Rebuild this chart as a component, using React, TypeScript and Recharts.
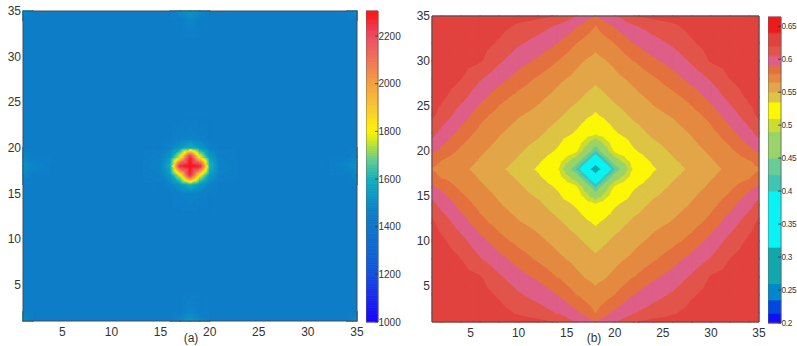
import React from 'react';
import { ComposedChart, XAxis, YAxis, ReferenceArea, Scatter } from 'recharts';

const FONT = '"Liberation Sans", Arial, Helvetica, sans-serif';
const TEXT = '#333333';

// ---------- shared axis data ----------
const axisDomain: [number, number] = [1, 35];
const axisTicks = [5, 10, 15, 20, 25, 30, 35];
const cornerPoints = [{ x: 1, y: 1 }, { x: 35, y: 35 }];

// ---------- panel (a) data ----------
const xsA = [1, 2, 4, 7, 10, 13, 15, 16, 17, 18, 19, 20, 21, 23, 26, 29, 32, 34, 35];
const ysA = [1, 2, 4, 7, 10, 13, 15, 16, 17, 18, 19, 20, 21, 23, 26, 29, 32, 34, 35];
const baseA = 1455;
const nodesA: [number, number, number][] = [
  [18, 18, 2305],
  [17, 18, 2250], [19, 18, 2260], [18, 17, 2245], [18, 19, 2255],
  [17, 17, 1760], [19, 17, 1780], [17, 19, 1770], [19, 19, 1780],
  [16, 18, 1590], [20, 18, 1610], [18, 16, 1600], [18, 20, 1590],
  [16, 17, 1530], [16, 19, 1530], [20, 17, 1540], [20, 19, 1540],
  [17, 16, 1530], [19, 16, 1530], [17, 20, 1530], [19, 20, 1530],
  [16, 16, 1470], [20, 16, 1470], [16, 20, 1470], [20, 20, 1470],
  [15, 18, 1475], [21, 18, 1475], [18, 15, 1475], [18, 21, 1475],
  [15, 17, 1465], [15, 19, 1465], [21, 17, 1465], [21, 19, 1465],
  [17, 15, 1465], [19, 15, 1465], [17, 21, 1465], [19, 21, 1465],
  [18, 35, 1525], [17, 35, 1490], [19, 35, 1490], [18, 34, 1485],
  [18, 1, 1525], [17, 1, 1490], [19, 1, 1490], [18, 2, 1485],
  [1, 18, 1515], [1, 17, 1485], [1, 19, 1485], [2, 18, 1480],
  [35, 18, 1515], [35, 17, 1485], [35, 19, 1485], [34, 18, 1480],
  [1, 1, 1505], [35, 1, 1500], [1, 35, 1495], [35, 35, 1505],
];
const colormapA: [number, string][] = [
  [1000, '#1800FF'], [1100, '#1828EC'], [1200, '#1450DC'], [1300, '#1066D0'],
  [1400, '#0E76CA'], [1455, '#0E7DC8'], [1520, '#0C94C6'], [1600, '#14B0BE'],
  [1680, '#60CC90'], [1750, '#C0E430'], [1800, '#FFF400'], [1900, '#FAC830'],
  [2000, '#F4A040'], [2100, '#EF7458'], [2200, '#EE4C60'], [2250, '#F23040'], [2305, '#FF1010'],
];
const cbarTicksA = [1000, 1200, 1400, 1600, 1800, 2000, 2200];
const cbarDomainA: [number, number] = [1000, 2305];

// ---------- panel (b) data ----------
const xsB = [1, 2, 4, 6, 8, 10, 12, 14, 16, 17, 18, 19, 20, 22, 24, 26, 28, 30, 32, 34, 35];
const ysB = [1, 2, 4, 6, 8, 10, 12, 14, 16, 17, 18, 19, 20, 22, 24, 26, 28, 30, 32, 34, 35];
const valuesB: number[][] = [
  [.633, .633, .632, .630, .628, .626, .624, .619, .605, .596, .590, .596, .605, .619, .624, .626, .628, .630, .632, .633, .633],
  [.633, .632, .631, .629, .625, .618, .612, .604, .592, .585, .578, .585, .592, .604, .612, .618, .625, .629, .631, .632, .633],
  [.633, .631, .629, .626, .618, .607, .599, .590, .578, .573, .569, .573, .578, .590, .599, .607, .618, .626, .629, .631, .633],
  [.632, .630, .626, .621, .607, .595, .587, .578, .568, .564, .561, .564, .568, .578, .587, .595, .607, .621, .626, .630, .632],
  [.630, .628, .620, .606, .594, .584, .576, .568, .561, .557, .553, .557, .561, .568, .576, .584, .594, .606, .620, .628, .630],
  [.627, .623, .610, .594, .582, .574, .568, .561, .553, .548, .543, .548, .553, .561, .568, .574, .582, .594, .610, .623, .627],
  [.623, .614, .597, .582, .573, .566, .561, .553, .543, .538, .533, .538, .543, .553, .561, .566, .573, .582, .597, .614, .623],
  [.610, .600, .585, .574, .566, .559, .553, .543, .533, .525, .515, .525, .533, .543, .553, .559, .566, .574, .585, .600, .610],
  [.592, .586, .575, .567, .560, .552, .543, .533, .513, .475, .425, .475, .513, .533, .543, .552, .560, .567, .575, .586, .592],
  [.583, .578, .571, .564, .557, .548, .538, .525, .475, .420, .345, .420, .475, .525, .538, .548, .557, .564, .571, .578, .583],
  [.577, .574, .568, .561, .553, .543, .533, .515, .425, .345, .280, .345, .425, .515, .533, .543, .553, .561, .568, .574, .577],
  [.583, .578, .571, .564, .557, .548, .538, .525, .475, .420, .345, .420, .475, .525, .538, .548, .557, .564, .571, .578, .583],
  [.592, .586, .575, .567, .560, .552, .543, .533, .513, .475, .425, .475, .513, .533, .543, .552, .560, .567, .575, .586, .592],
  [.610, .600, .585, .574, .566, .559, .553, .543, .533, .525, .515, .525, .533, .543, .553, .559, .566, .574, .585, .600, .610],
  [.623, .614, .597, .582, .573, .566, .561, .553, .543, .538, .533, .538, .543, .553, .561, .566, .573, .582, .597, .614, .623],
  [.627, .623, .610, .594, .582, .574, .568, .561, .553, .548, .543, .548, .553, .561, .568, .574, .582, .594, .610, .623, .627],
  [.630, .628, .620, .606, .594, .584, .576, .568, .561, .557, .553, .557, .561, .568, .576, .584, .594, .606, .620, .628, .630],
  [.632, .630, .626, .621, .607, .595, .587, .578, .568, .564, .561, .564, .568, .578, .587, .595, .607, .621, .626, .630, .632],
  [.633, .631, .629, .626, .618, .607, .599, .590, .578, .573, .569, .573, .578, .590, .599, .607, .618, .626, .629, .631, .633],
  [.633, .632, .631, .629, .625, .618, .612, .604, .592, .585, .578, .585, .592, .604, .612, .618, .625, .629, .631, .632, .633],
  [.633, .633, .632, .630, .628, .626, .624, .619, .605, .596, .590, .596, .605, .619, .624, .626, .628, .630, .632, .633, .633],
];
type Band = [number, number, string];
const bandsB: Band[] = [
  [0.200, 0.215, '#1010F8'],
  [0.215, 0.235, '#0048E0'],
  [0.235, 0.260, '#0088CC'],
  [0.260, 0.315, '#10A8AC'],
  [0.315, 0.400, '#08F4F4'],
  [0.400, 0.425, '#40C4B4'],
  [0.425, 0.450, '#68CC98'],
  [0.450, 0.490, '#98D468'],
  [0.490, 0.510, '#CCDC34'],
  [0.510, 0.535, '#FCF804'],
  [0.535, 0.550, '#DEC444'],
  [0.550, 0.565, '#E2A648'],
  [0.565, 0.578, '#E48A40'],
  [0.578, 0.590, '#E4703E'],
  [0.590, 0.605, '#DE5E88'],
  [0.605, 0.620, '#E2544A'],
  [0.620, 0.640, '#E2423E'],
  [0.640, 0.664, '#F01818'],
];
const cbarTicksB = [0.2, 0.25, 0.3, 0.35, 0.4, 0.45, 0.5, 0.55, 0.6, 0.65];
const cbarDomainB: [number, number] = [0.2, 0.664];

// ---------- helpers ----------
function hexRgb(h: string): number[] {
  const n = parseInt(h.slice(1), 16);
  return [(n >> 16) & 255, (n >> 8) & 255, n & 255];
}
function colorA(v: number): string {
  const s = colormapA;
  if (v <= s[0][0]) return s[0][1];
  if (v >= s[s.length - 1][0]) return s[s.length - 1][1];
  for (let i = 0; i < s.length - 1; i++) {
    if (v >= s[i][0] && v <= s[i + 1][0]) {
      const t = (v - s[i][0]) / (s[i + 1][0] - s[i][0]);
      const a = hexRgb(s[i][1]);
      const b = hexRgb(s[i + 1][1]);
      const c = a.map((q, k) => Math.round(q + t * (b[k] - q)));
      return `rgb(${c[0]},${c[1]},${c[2]})`;
    }
  }
  return s[0][1];
}
const bandsA: Band[] = [];
for (let lo = cbarDomainA[0]; lo < cbarDomainA[1]; lo += 8) {
  bandsA.push([lo, Math.min(lo + 8, cbarDomainA[1]), colorA(lo + 4)]);
}
const cbarBandsA: Band[] = [];
for (let lo = cbarDomainA[0]; lo < cbarDomainA[1]; lo += 10) {
  cbarBandsA.push([lo, Math.min(lo + 10, cbarDomainA[1]), colorA(lo + 5)]);
}

function buildGridA(): number[][] {
  const g = ysA.map(() => xsA.map(() => baseA));
  nodesA.forEach(([x, y, v]) => {
    const i = xsA.indexOf(x);
    const j = ysA.indexOf(y);
    if (i >= 0 && j >= 0) g[j][i] = v;
  });
  return g;
}
const gridA = buildGridA();

type Pt = [number, number, number];
function clip(poly: Pt[], t: number, above: boolean): Pt[] {
  const out: Pt[] = [];
  const n = poly.length;
  for (let i = 0; i < n; i++) {
    const a = poly[i];
    const b = poly[(i + 1) % n];
    const ain = above ? a[2] >= t : a[2] <= t;
    const bin = above ? b[2] >= t : b[2] <= t;
    if (ain) out.push(a);
    if (ain !== bin) {
      const s = (t - a[2]) / (b[2] - a[2]);
      out.push([a[0] + s * (b[0] - a[0]), a[1] + s * (b[1] - a[1]), t]);
    }
  }
  return out;
}

function makeCellShape(v: number[], bands: Band[], sw: number) {
  return (p: any) => {
    const L = p.x;
    const T = p.y;
    const R = p.x + p.width;
    const B = p.y + p.height;
    const cv = (v[0] + v[1] + v[2] + v[3]) / 4;
    const bl: Pt = [L, B, v[0]];
    const br: Pt = [R, B, v[1]];
    const tr: Pt = [R, T, v[2]];
    const tl: Pt = [L, T, v[3]];
    const c: Pt = [(L + R) / 2, (T + B) / 2, cv];
    const tris: Pt[][] = [[bl, br, c], [br, tr, c], [tr, tl, c], [tl, bl, c]];
    const out: React.ReactElement[] = [];
    tris.forEach((tri, ti) => {
      const vals = tri.map((q) => q[2]);
      const mn = Math.min(...vals);
      const mx = Math.max(...vals);
      bands.forEach((bd, bi) => {
        let poly: Pt[];
        if (mn === mx) {
          const inside = mn >= bd[0] && (mn < bd[1] || (bi === bands.length - 1 && mn <= bd[1]));
          if (!inside) return;
          poly = tri;
        } else {
          if (bd[1] <= mn || bd[0] >= mx) return;
          poly = clip(tri, bd[0], true);
          if (poly.length < 3) return;
          poly = clip(poly, bd[1], false);
          if (poly.length < 3) return;
        }
        out.push(
          <polygon
            key={`${ti}-${bi}`}
            points={poly.map((q) => `${q[0].toFixed(2)},${q[1].toFixed(2)}`).join(' ')}
            fill={bd[2]}
            stroke={bd[2]}
            strokeWidth={sw}
            strokeLinejoin="round"
          />
        );
      });
    });
    return <g>{out}</g>;
  };
}

function renderCells(id: string, xs: number[], ys: number[], grid: number[][], bands: Band[], sw: number, skip?: number) {
  const out: React.ReactElement[] = [];
  for (let j = 0; j < ys.length - 1; j++) {
    for (let i = 0; i < xs.length - 1; i++) {
      const v = [grid[j][i], grid[j][i + 1], grid[j + 1][i + 1], grid[j + 1][i]];
      if (skip !== undefined && v.every((q) => q === skip)) continue;
      out.push(
        <ReferenceArea
          key={`${id}-${j}-${i}`}
          x1={xs[i]}
          x2={xs[i + 1]}
          y1={ys[j]}
          y2={ys[j + 1]}
          ifOverflow="visible"
          shape={makeCellShape(v, bands, sw)}
        />
      );
    }
  }
  return out;
}

const tickStyle = { fill: TEXT, fontSize: 12, fontFamily: FONT };

function Panel(props: {
  left: number; width: number; top: number; yAxisWidth: number; xAxisHeight: number;
  children: React.ReactNode;
}) {
  const { left, width, top, yAxisWidth, xAxisHeight, children } = props;
  return (
    <div style={{ position: 'absolute', left, top: 0 }}>
      <ComposedChart width={width} height={346} margin={{ top, right: 9, bottom: 0, left: 0 }}>
        <XAxis type="number" dataKey="x" domain={axisDomain} ticks={axisTicks} allowDataOverflow
          height={xAxisHeight} axisLine={false} tickLine={false} tickSize={0} tickMargin={6} tick={tickStyle} interval={0} />
        <YAxis type="number" dataKey="y" domain={axisDomain} ticks={axisTicks} allowDataOverflow
          width={yAxisWidth} axisLine={false} tickLine={false} tickSize={0} tickMargin={2} tick={tickStyle} interval={0} />
        <Scatter data={cornerPoints} dataKey="y" fill="none" isAnimationActive={false} shape={() => <g />} />
        {children}
        <ReferenceArea x1={1} x2={35} y1={1} y2={35} ifOverflow="visible" fill="none" fillOpacity={0} stroke="#4a4a4a" strokeWidth={1} />
      </ComposedChart>
    </div>
  );
}

function makeCbTick(fontSize: number, spacing: number, fmt: (v: number) => string) {
  return (p: any) => {
    const { x, y, payload } = p;
    return (
      <g>
        <line x1={x - 3} x2={x} y1={y} y2={y} stroke="#333" strokeWidth={0.8} />
        <text x={x + 0.5} y={y} dy="0.355em" textAnchor="start" fontSize={fontSize} letterSpacing={spacing}
          fill={TEXT} fontFamily={FONT}>
          {fmt(payload.value)}
        </text>
      </g>
    );
  };
}

function ColorBar(props: {
  left: number; width: number; axisWidth: number; top: number; bottom: number;
  domain: [number, number]; ticks: number[]; bands: Band[]; fontSize: number; spacing: number;
  fmt: (v: number) => string;
}) {
  const { left, width, axisWidth, top, bottom, domain, ticks, bands, fontSize, spacing, fmt } = props;
  return (
    <div style={{ position: 'absolute', left, top: 0 }}>
      <ComposedChart width={width} height={346} margin={{ top, right: 0, bottom, left: 0 }}>
        <XAxis type="number" dataKey="x" domain={[0, 1]} allowDataOverflow hide />
        <YAxis type="number" orientation="right" domain={domain} ticks={ticks} allowDataOverflow interval={0}
          width={axisWidth} axisLine={false} tickLine={false} tickSize={0} tickMargin={0}
          tick={makeCbTick(fontSize, spacing, fmt)} />
        {bands.map((b, i) => (
          <ReferenceArea key={`cb-${i}`} x1={0} x2={1} y1={b[0]} y2={b[1]} ifOverflow="visible"
            fill={b[2]} fillOpacity={1} stroke={b[2]} strokeWidth={0.8} />
        ))}
        <ReferenceArea x1={0} x2={1} y1={domain[0]} y2={domain[1]} ifOverflow="visible" fill="none" fillOpacity={0} stroke="#666" strokeWidth={0.8} />
      </ComposedChart>
    </div>
  );
}

export default function App() {
  return (
    <div style={{ position: 'absolute', left: 0, top: 0, width: 797, height: 346, background: '#fff', fontFamily: FONT, overflow: 'hidden' }}>
      <Panel left={0} width={366} top={11} yAxisWidth={23} xAxisHeight={25}>
        <ReferenceArea x1={1} x2={35} y1={1} y2={35} ifOverflow="visible" fill={colorA(baseA)} fillOpacity={1} stroke="none" />
        {renderCells('a', xsA, ysA, gridA, bandsA, 1.2, baseA)}
      </Panel>
      <ColorBar left={366} width={52} axisWidth={40} top={11} bottom={24} domain={cbarDomainA} ticks={cbarTicksA}
        bands={cbarBandsA} fontSize={10} spacing={0} fmt={(v) => String(v)} />
      <Panel left={400} width={368} top={16} yAxisWidth={32} xAxisHeight={24}>
        <ReferenceArea x1={1} x2={35} y1={1} y2={35} ifOverflow="visible" fill="#E2A648" fillOpacity={1} stroke="none" />
        {renderCells('b', xsB, ysB, valuesB, bandsB, 1.0)}
      </Panel>
      <ColorBar left={768} width={29} axisWidth={16} top={17} bottom={23} domain={cbarDomainB} ticks={cbarTicksB}
        bands={bandsB} fontSize={8.2} spacing={-0.3} fmt={(v) => String(Math.round(v * 100) / 100)} />
      <svg width={797} height={346} style={{ position: 'absolute', left: 0, top: 0, pointerEvents: 'none' }}>
        <text x={191} y={342} textAnchor="middle" fontSize={12} fill={TEXT} fontFamily={FONT}>(a)</text>
        <text x={594} y={342} textAnchor="middle" fontSize={12} fill={TEXT} fontFamily={FONT}>(b)</text>
      </svg>
    </div>
  );
}
